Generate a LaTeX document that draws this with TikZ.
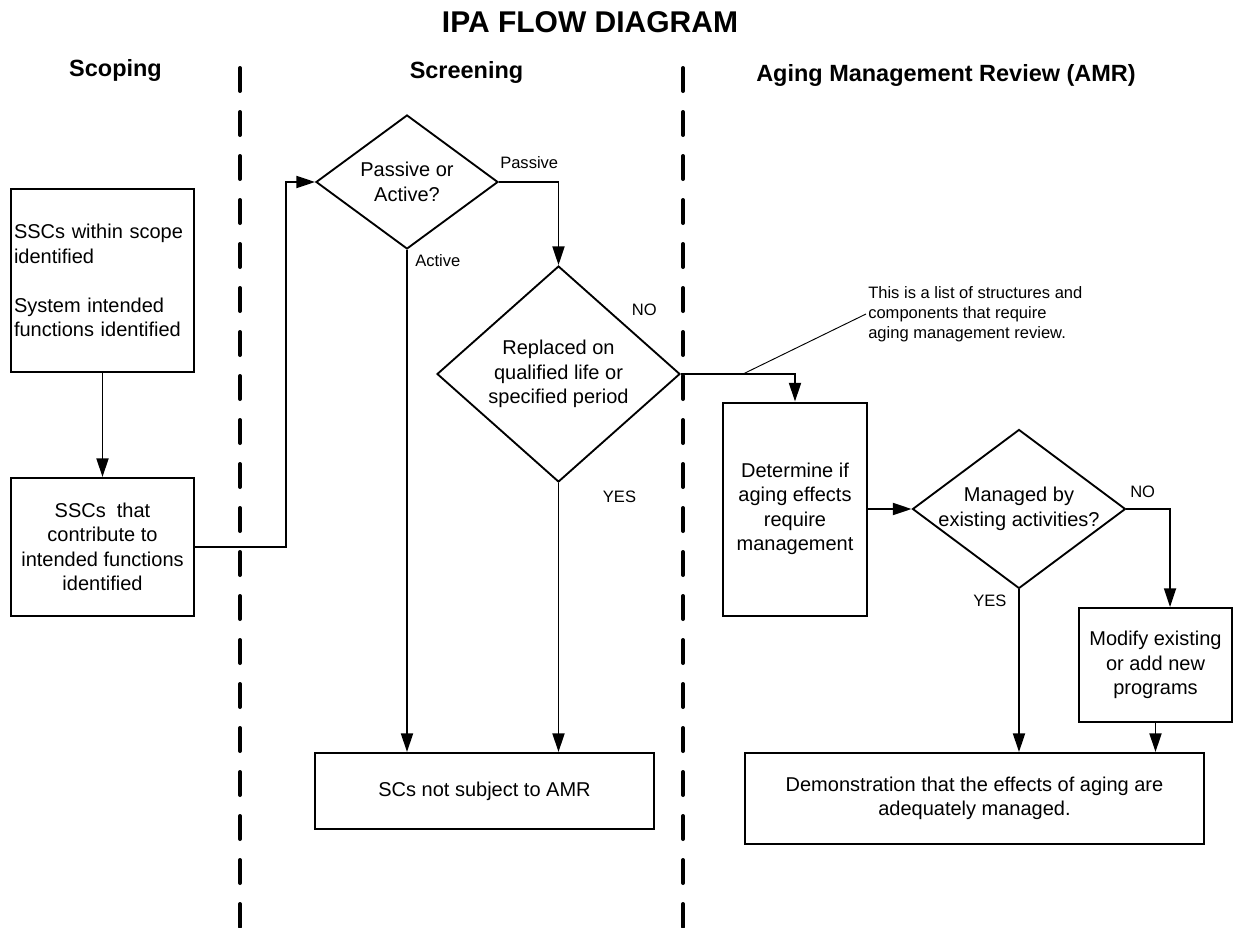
\documentclass[tikz,border=0pt]{standalone}
\usepackage{fontspec}
\setmainfont{Liberation Sans}
\usetikzlibrary{arrows.meta,shapes.geometric}

\begin{document}
\begin{tikzpicture}[x=0.75pt,y=0.75pt,yscale=-1,xscale=1,
	box/.style={draw,line width=1.5pt,inner sep=2.25pt,align=center,font=\fontsize{15}{18.3}\selectfont},
	decision/.style={draw,shape=diamond,line width=1.4pt,inner sep=0pt},
	dtext/.style={inner sep=0pt,align=center,font=\fontsize{15}{18.3}\selectfont},
	flow/.style={line width=1.4pt,-{Triangle[length=14pt,width=9pt]}},
	lbl/.style={inner sep=0pt,anchor=base west,font=\fontsize{12.4}{15}\selectfont},
	head/.style={inner sep=0pt,anchor=base,font=\fontsize{17.6}{21}\selectfont\bfseries},
	lane/.style={line width=3pt,line cap=round,dash pattern=on 17.25pt off 15.75pt}]
	\useasboundingbox (0,0) rectangle (1236,928);
	
	% Text Node
	\draw (590,32) node [head,font=\fontsize{22.5}{27}\selectfont\bfseries] (title) {IPA FLOW DIAGRAM};
	% Text Node
	\draw (115.5,76) node [head] (hscope) {Scoping};
	% Text Node
	\draw (466.5,78) node [head] (hscreen) {Screening};
	% Text Node
	\draw (946,81.5) node [head] (hamr) {Aging Management Review (AMR)};
	
	%Straight Lines
	\draw [lane] (240,68) -- (240,928) ;
	%Straight Lines
	\draw [lane] (683,68) -- (683,928) ;
	
	%Shape: Rectangle
	\draw (102.5,280.5) node [box,align=left,text width=132.75pt,minimum height=137.25pt] (b1) {SSCs within scope\\identified\\[18.3pt]System intended\\functions identified};
	%Shape: Rectangle
	\draw (102.5,547) node [box,minimum width=137.25pt,minimum height=103.5pt] (b2) {SSCs\ \ that\\contribute to\\intended functions\\identified};
	%Shape: Diamond
	\draw (407,182) node [decision,minimum width=136.5pt,minimum height=100.5pt] (d1) {};
	\draw (d1.center) node [dtext] (d1t) {Passive or\\Active?};
	%Shape: Diamond
	\draw (558.5,374) node [decision,minimum width=182.25pt,minimum height=162pt] (d2) {};
	\draw (d2.center) node [dtext] (d2t) {Replaced on\\qualified life or\\specified period};
	%Shape: Rectangle
	\draw (484.5,791) node [box,minimum width=254.25pt,minimum height=57pt] (sc) {SCs not subject to AMR};
	%Shape: Rectangle
	\draw (795,509) node [box,minimum width=108pt,minimum height=159.75pt] (det) {Determine if\\aging effects\\require\\management};
	%Shape: Diamond
	\draw (1019,509) node [decision,minimum width=159.75pt,minimum height=119.25pt] (d3) {};
	\draw (d3.center) node [dtext] (d3t) {Managed by\\existing activities?};
	%Shape: Rectangle
	\draw (1155.5,665) node [box,minimum width=114.75pt,minimum height=85.5pt] (mod) {Modify existing\\or add new\\programs};
	%Shape: Rectangle
	\draw (974.5,798.5) node [box,minimum width=344.25pt,minimum height=68.25pt] (demo) {Demonstration that the effects of aging are\\adequately managed.};
	
	% Text Node
	\draw (500,168.3) node [lbl] (lpassive) {Passive};
	% Text Node
	\draw (415,266.7) node [lbl] (lactive) {Active};
	% Text Node
	\draw (631.7,315.7) node [lbl] (lno1) {NO};
	% Text Node
	\draw (602.7,502.7) node [lbl] (lyes1) {YES};
	% Text Node
	\draw (1130,497) node [lbl] (lno2) {NO};
	% Text Node
	\draw (973,606) node [lbl] (lyes2) {YES};
	% Text Node
	\draw (866,314) node [lbl,anchor=west,align=left,inner sep=1.5pt] (note) {This is a list of structures and\\components that require\\aging management review.};
	
	%Straight Lines
	\draw [flow] (b1.south) -- (b2.north) ;
	\draw [flow] (b2.east) -- ++(91,0) |- (d1.west) ;
	\draw [flow] (d1.east) -| (d2.north) ;
	\draw [flow] (d1.south) -- (d1.south |- sc.north) ;
	\draw [flow] (d2.south) -- (d2.south |- sc.north) ;
	\draw [flow] (d2.east) -| (det.north) ;
	\coordinate (cpt) at (743,374) ;
	\draw [line width=0.7pt] (cpt) -- (note.west) ;
	\draw [flow] (det.east) -- (d3.west) ;
	\draw [flow] (d3.east) -| ([xshift=10.9pt]mod.north) ;
	\draw [flow] (d3.south) -- (d3.south |- demo.north) ;
	\draw [flow] (mod.south) -- (mod.south |- demo.north) ;
	
\end{tikzpicture}
\end{document}
